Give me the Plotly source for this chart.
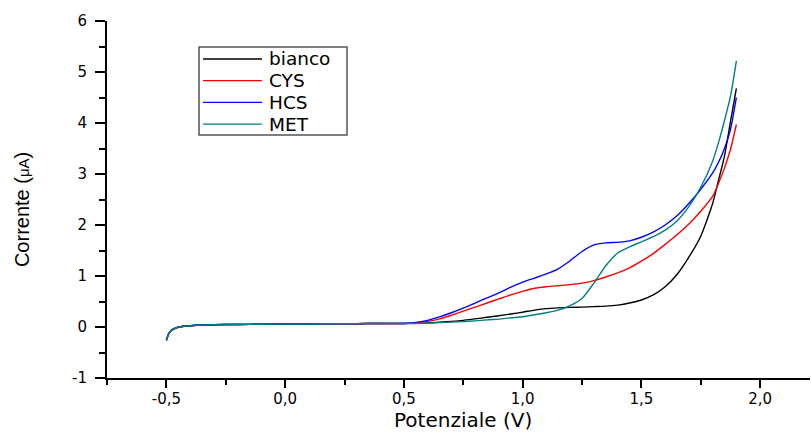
import plotly.graph_objects as go

# Potential sweep (V), shared by all four voltammograms
potential = [-0.5, -0.49, -0.48, -0.46, -0.44, -0.4, -0.35, -0.3, -0.2, -0.1,
             0.0, 0.1, 0.2, 0.3, 0.4,
             0.5, 0.55, 0.6, 0.65, 0.7, 0.75, 0.8, 0.85, 0.9, 0.95,
             1.0, 1.05, 1.1, 1.15, 1.2, 1.25, 1.3, 1.35, 1.4, 1.45,
             1.5, 1.55, 1.6, 1.65, 1.7, 1.75, 1.8, 1.825, 1.85, 1.875, 1.9]

# common low-potential segment (identical for every sample)
baseline = [-0.26, -0.13, -0.07, -0.02, 0.005, 0.025, 0.04, 0.045, 0.05, 0.055,
            0.06, 0.06, 0.065, 0.065, 0.07]

# currents (uA) from 0.5 V upward
bianco_hi = [0.07, 0.075, 0.08, 0.095, 0.11, 0.13, 0.16, 0.19, 0.22, 0.255,
             0.29, 0.33, 0.36, 0.375, 0.385, 0.39, 0.40, 0.41, 0.43, 0.47,
             0.53, 0.63, 0.79, 1.03, 1.37, 1.78, 2.42, 2.88, 3.35, 4.02, 4.68]
cys_hi = [0.07, 0.08, 0.11, 0.16, 0.23, 0.31, 0.39, 0.47, 0.55, 0.63,
          0.70, 0.76, 0.79, 0.81, 0.83, 0.86, 0.91, 0.98, 1.06, 1.16,
          1.29, 1.44, 1.62, 1.81, 2.02, 2.27, 2.56, 2.82, 3.12, 3.48, 3.97]
hcs_hi = [0.07, 0.09, 0.13, 0.20, 0.28, 0.37, 0.47, 0.57, 0.67, 0.78,
          0.88, 0.96, 1.04, 1.14, 1.30, 1.48, 1.61, 1.65, 1.66, 1.69,
          1.76, 1.86, 2.00, 2.18, 2.42, 2.70, 3.02, 3.23, 3.50, 3.87, 4.50]
met_hi = [0.07, 0.07, 0.075, 0.085, 0.095, 0.105, 0.12, 0.14, 0.155, 0.18,
          0.20, 0.24, 0.28, 0.33, 0.42, 0.56, 0.86, 1.20, 1.45, 1.57,
          1.67, 1.77, 1.90, 2.08, 2.36, 2.74, 3.25, 3.62, 4.05, 4.52, 5.22]

series_names = ["bianco", "CYS", "HCS", "MET"]
series_currents = [baseline + bianco_hi, baseline + cys_hi,
                   baseline + hcs_hi, baseline + met_hi]
series_colors = ["#000000", "#ff0000", "#0000ff", "#008080"]

x_ticks = [-0.5, 0.0, 0.5, 1.0, 1.5, 2.0]
x_ticktext = ["-0,5", "0,0", "0,5", "1,0", "1,5", "2,0"]
x_minor = [-0.75, -0.25, 0.25, 0.75, 1.25, 1.75]
y_ticks = [-1, 0, 1, 2, 3, 4, 5, 6]
y_ticktext = ["-1", "0", "1", "2", "3", "4", "5", "6"]
y_minor = [-0.5, 0.5, 1.5, 2.5, 3.5, 4.5, 5.5]

fig = go.Figure()
for name, cur, col in zip(series_names, series_currents, series_colors):
    fig.add_trace(go.Scatter(
        x=potential, y=cur, name=name, mode="lines",
        line=dict(color=col, width=1.4, shape="spline", smoothing=0.6),
        showlegend=False,
    ))

TICK_FONT = dict(family="DejaVu Sans", size=15, color="black")

fig.update_layout(
    width=811, height=434,
    margin=dict(l=107, r=1, t=21, b=56),
    paper_bgcolor="white", plot_bgcolor="white",
    xaxis=dict(
        range=[-0.75, 2.21], showline=True, linewidth=2, linecolor="black",
        ticks="outside", ticklen=8, tickwidth=1.5, tickcolor="black",
        tickmode="array", tickvals=x_ticks, ticktext=x_ticktext,
        ticklabelstandoff=-2,
        minor=dict(ticks="outside", ticklen=5, tickwidth=1.5, tickcolor="black",
                   tickmode="array", tickvals=x_minor, showgrid=False),
        tickfont=TICK_FONT, showgrid=False, zeroline=False,
    ),
    yaxis=dict(
        range=[-1, 6], showline=True, linewidth=2, linecolor="black",
        ticks="outside", ticklen=10, tickwidth=1.5, tickcolor="black",
        tickmode="array", tickvals=y_ticks, ticktext=y_ticktext,
        ticklabelstandoff=5,
        minor=dict(ticks="outside", ticklen=6, tickwidth=1.5, tickcolor="black",
                   tickmode="array", tickvals=y_minor, showgrid=False),
        tickfont=TICK_FONT, showgrid=False, zeroline=False,
    ),
)

# axis titles
fig.add_annotation(text="Potenziale (V)", xref="paper", yref="paper",
                   x=0.506, y=-0.119, xanchor="center", yanchor="middle",
                   showarrow=False,
                   font=dict(family="DejaVu Sans", size=20, color="black"))
fig.add_annotation(text="Corrente (<span style='font-size:15px'>\u03bcA</span>)",
                   xref="paper", yref="paper", x=-0.121, y=0.473,
                   xanchor="center", yanchor="middle", textangle=-90,
                   showarrow=False,
                   font=dict(family="Liberation Sans, Arial", size=20, color="black"))

# boxed legend
leg_x0, leg_x1, leg_y0, leg_y1 = 0.1309, 0.3414, 0.6807, 0.9272
fig.add_shape(type="rect", xref="paper", yref="paper",
              x0=leg_x0, x1=leg_x1, y0=leg_y0, y1=leg_y1,
              line=dict(color="#555555", width=1.5), fillcolor="white")
row_y = [0.8936, 0.8328, 0.7720, 0.7112]
for name, col, yy in zip(series_names, series_colors, row_y):
    fig.add_shape(type="line", xref="paper", yref="paper",
                  x0=0.1366, x1=0.2205, y0=yy, y1=yy,
                  line=dict(color=col, width=1.3))
    fig.add_annotation(text=name, xref="paper", yref="paper",
                       x=0.228, y=yy, xanchor="left", yanchor="middle",
                       showarrow=False,
                       font=dict(family="DejaVu Sans", size=18.5, color="black"))

fig.write_html("out.html")
